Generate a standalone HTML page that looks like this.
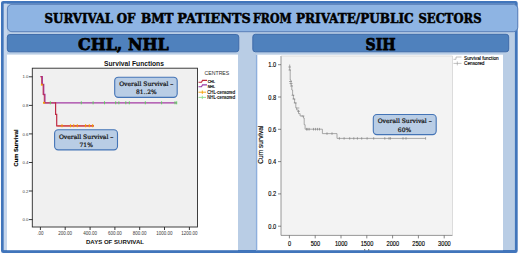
<!DOCTYPE html>
<html><head><meta charset="utf-8"><title>Survival of BMT patients</title>
<style>
html,body{margin:0;padding:0;background:#fff;}
body{width:520px;height:254px;overflow:hidden;font-family:"Liberation Sans",sans-serif;}
svg{display:block;}
.ser{font-family:"DejaVu Serif","Liberation Serif",serif;font-weight:bold;}
.cal{font-family:"DejaVu Serif","Liberation Serif",serif;font-weight:normal;stroke:#111;stroke-width:0.22px;}
.sans{font-family:"Liberation Sans",sans-serif;}
</style></head><body>
<svg width="520" height="254" viewBox="0 0 520 254">
<rect x="0" y="0" width="520" height="254" fill="#fdfdfe"/>
<!-- outer frame -->
<rect x="2.4" y="2.3" width="513.9" height="249.2" rx="0.8" fill="#b9cde5" stroke="#4175bb" stroke-width="2.8"/>
<rect x="3.8" y="3.7" width="3.2" height="246.4" fill="#c6d6ec"/>
<!-- white panels -->
<rect x="7" y="54.6" width="231" height="195.6" fill="#ffffff"/>
<rect x="256" y="54.7" width="247" height="195.5" fill="#ffffff"/>
<rect x="255.9" y="54.7" width="1.4" height="195.5" fill="#8eafdd"/>
<!-- title box -->
<rect x="7.4" y="4.4" width="510.4" height="27.3" rx="4.5" ry="4.5" fill="#8eb4e3" stroke="#5279b3" stroke-width="0.9"/>
<g class="ser" font-size="12" fill="#000" stroke="#000" stroke-width="0.5"><text x="44.6" y="22.8" textLength="68.5" lengthAdjust="spacingAndGlyphs">SURVIVAL</text><text x="116.8" y="22.8" textLength="18.7" lengthAdjust="spacingAndGlyphs">OF</text><text x="141.0" y="22.8" textLength="32.6" lengthAdjust="spacingAndGlyphs">BMT</text><text x="177.3" y="22.8" textLength="73.3" lengthAdjust="spacingAndGlyphs">PATIENTS</text><text x="253.1" y="22.8" textLength="38.5" lengthAdjust="spacingAndGlyphs">FROM</text><text x="296.0" y="22.8" textLength="117.6" lengthAdjust="spacingAndGlyphs">PRIVATE/PUBLIC</text><text x="418.5" y="22.8" textLength="63.0" lengthAdjust="spacingAndGlyphs">SECTORS</text></g>
<!-- headers -->
<rect x="7.3" y="34.5" width="231.5" height="17.3" rx="2.6" ry="2.6" fill="#4f81bd" stroke="#3a66a6" stroke-width="0.9"/>
<rect x="252.8" y="34.3" width="255.9" height="17.5" rx="2.6" ry="2.6" fill="#4f81bd" stroke="#3a66a6" stroke-width="0.9"/>
<text class="ser" x="78" y="50" font-size="16.2" textLength="90.6" lengthAdjust="spacingAndGlyphs" fill="#000" stroke="#000" stroke-width="0.75">CHL, NHL</text>
<text class="ser" x="365.6" y="49.7" font-size="16.2" textLength="30" lengthAdjust="spacingAndGlyphs" fill="#000" stroke="#000" stroke-width="0.75">SIH</text>

<!-- LEFT CHART -->
<g class="sans">
<rect x="32.3" y="68.2" width="165.2" height="158.8" fill="#f0f0f0" stroke="#2a2a2a" stroke-width="0.9"/>
<text x="134" y="65.6" font-size="6.7" font-weight="bold" text-anchor="middle" fill="#111">Survival Functions</text>
<line x1="28.9" y1="76.8" x2="32.5" y2="76.8" stroke="#222" stroke-width="0.9"/><text x="28.5" y="78.39999999999999" font-size="4.3" text-anchor="end" fill="#3a3a3a">1.0</text><line x1="28.9" y1="105.4" x2="32.5" y2="105.4" stroke="#222" stroke-width="0.9"/><text x="28.5" y="107.0" font-size="4.3" text-anchor="end" fill="#3a3a3a">0.8</text><line x1="28.9" y1="133.9" x2="32.5" y2="133.9" stroke="#222" stroke-width="0.9"/><text x="28.5" y="135.5" font-size="4.3" text-anchor="end" fill="#3a3a3a">0.6</text><line x1="28.9" y1="162.5" x2="32.5" y2="162.5" stroke="#222" stroke-width="0.9"/><text x="28.5" y="164.1" font-size="4.3" text-anchor="end" fill="#3a3a3a">0.4</text><line x1="28.9" y1="191.0" x2="32.5" y2="191.0" stroke="#222" stroke-width="0.9"/><text x="28.5" y="192.6" font-size="4.3" text-anchor="end" fill="#3a3a3a">0.2</text><line x1="28.9" y1="219.6" x2="32.5" y2="219.6" stroke="#222" stroke-width="0.9"/><text x="28.5" y="221.2" font-size="4.3" text-anchor="end" fill="#3a3a3a">0.0</text><line x1="40.4" y1="227" x2="40.4" y2="230" stroke="#222" stroke-width="0.9"/><text x="40.4" y="234.9" font-size="4.5" text-anchor="middle" fill="#3a3a3a">.00</text><line x1="65.2" y1="227" x2="65.2" y2="230" stroke="#222" stroke-width="0.9"/><text x="65.2" y="234.9" font-size="4.5" text-anchor="middle" fill="#3a3a3a">200.00</text><line x1="90.1" y1="227" x2="90.1" y2="230" stroke="#222" stroke-width="0.9"/><text x="90.1" y="234.9" font-size="4.5" text-anchor="middle" fill="#3a3a3a">400.00</text><line x1="114.9" y1="227" x2="114.9" y2="230" stroke="#222" stroke-width="0.9"/><text x="114.9" y="234.9" font-size="4.5" text-anchor="middle" fill="#3a3a3a">600.00</text><line x1="139.7" y1="227" x2="139.7" y2="230" stroke="#222" stroke-width="0.9"/><text x="139.7" y="234.9" font-size="4.5" text-anchor="middle" fill="#3a3a3a">800.00</text><line x1="164.5" y1="227" x2="164.5" y2="230" stroke="#222" stroke-width="0.9"/><text x="164.5" y="234.9" font-size="4.5" text-anchor="middle" fill="#3a3a3a">1000.00</text><line x1="189.4" y1="227" x2="189.4" y2="230" stroke="#222" stroke-width="0.9"/><text x="189.4" y="234.9" font-size="4.5" text-anchor="middle" fill="#3a3a3a">1200.00</text>
<text x="115" y="244" font-size="6" font-weight="bold" text-anchor="middle" fill="#111" textLength="58" lengthAdjust="spacingAndGlyphs">DAYS OF SURVIVAL</text>
<text transform="translate(17.7,148) rotate(-90)" font-size="5.8" font-weight="bold" text-anchor="middle" fill="#000" stroke="#000" stroke-width="0.15" textLength="37" lengthAdjust="spacingAndGlyphs">Cum Survival</text>
<!-- curves -->
<polyline points="40.5,76.6 42.3,76.6 42.3,84.5 43.7,84.5 43.7,94.5 44.9,94.5 44.9,102.8 176.7,102.8" fill="none" stroke="#a23aa2" stroke-width="1.3"/>
<polyline points="40.5,76.6 41.6,76.6 41.6,84.5 43.1,84.5 43.1,94.5 44.3,94.5 44.3,102.8 55.6,102.8" fill="none" stroke="#bf2a45" stroke-width="1.2" stroke-opacity="0.7"/>
<polyline points="55,102.8 55.6,102.8 55.6,114.4 56.7,114.4 56.7,125.8 93.9,125.8" fill="none" stroke="#bf2a45" stroke-width="1.2"/>
<line x1="57.3" y1="125.8" x2="93.9" y2="125.8" stroke="#d8504a" stroke-width="1.2"/>
<line x1="50.3" y1="101.3" x2="50.3" y2="104.3" stroke="#5fcf5f" stroke-width="1.0"/><line x1="81.3" y1="101.3" x2="81.3" y2="104.3" stroke="#5fcf5f" stroke-width="1.0"/><line x1="93.1" y1="101.3" x2="93.1" y2="104.3" stroke="#5fcf5f" stroke-width="1.0"/><line x1="104.5" y1="101.3" x2="104.5" y2="104.3" stroke="#5fcf5f" stroke-width="1.0"/><line x1="115.7" y1="101.3" x2="115.7" y2="104.3" stroke="#5fcf5f" stroke-width="1.0"/><line x1="118.9" y1="101.3" x2="118.9" y2="104.3" stroke="#5fcf5f" stroke-width="1.0"/><line x1="125.8" y1="101.3" x2="125.8" y2="104.3" stroke="#5fcf5f" stroke-width="1.0"/><line x1="129.3" y1="101.3" x2="129.3" y2="104.3" stroke="#5fcf5f" stroke-width="1.0"/><line x1="145.3" y1="101.3" x2="145.3" y2="104.3" stroke="#5fcf5f" stroke-width="1.0"/><line x1="161.6" y1="101.3" x2="161.6" y2="104.3" stroke="#5fcf5f" stroke-width="1.0"/><line x1="175" y1="101.3" x2="175" y2="104.3" stroke="#5fcf5f" stroke-width="1.0"/><line x1="176.7" y1="101.3" x2="176.7" y2="104.3" stroke="#5fcf5f" stroke-width="1.0"/>
<line x1="62" y1="124.3" x2="62" y2="127.3" stroke="#f5a000" stroke-width="1.1"/><line x1="70.5" y1="124.3" x2="70.5" y2="127.3" stroke="#f5a000" stroke-width="1.1"/><line x1="73.7" y1="124.3" x2="73.7" y2="127.3" stroke="#f5a000" stroke-width="1.1"/><line x1="77.3" y1="124.3" x2="77.3" y2="127.3" stroke="#f5a000" stroke-width="1.1"/><line x1="85.6" y1="124.3" x2="85.6" y2="127.3" stroke="#f5a000" stroke-width="1.1"/><line x1="89.3" y1="124.3" x2="89.3" y2="127.3" stroke="#f5a000" stroke-width="1.1"/><line x1="92.6" y1="124.3" x2="92.6" y2="127.3" stroke="#f5a000" stroke-width="1.1"/>
<rect x="40.9" y="83.8" width="1.8" height="1.8" fill="#f5a000"/>
<rect x="43" y="101.9" width="1.8" height="1.8" fill="#f5a000"/>
<!-- legend -->
<text x="216.9" y="75.3" font-size="5.8" text-anchor="middle" fill="#2e2e2e" textLength="24.8" lengthAdjust="spacingAndGlyphs">CENTRES</text>
<polyline points="198.5,82.2 201.5,82.2 202.5,80.4 207,80.4" fill="none" stroke="#c0283c" stroke-width="1.1"/>
<polyline points="198.5,86.7 201.5,86.7 202.5,84.9 207,84.9" fill="none" stroke="#9b3aa8" stroke-width="1.1"/>
<line x1="198.5" y1="92.2" x2="206" y2="92.2" stroke="#f5a000" stroke-width="0.9"/><line x1="202.3" y1="90.5" x2="202.3" y2="93.9" stroke="#f5a000" stroke-width="0.9"/>
<line x1="198.5" y1="97.4" x2="206" y2="97.4" stroke="#8fdc8f" stroke-width="0.9"/><line x1="202.3" y1="95.7" x2="202.3" y2="99.1" stroke="#8fdc8f" stroke-width="0.9"/>
<text x="207.7" y="83.3" font-size="4" fill="#000" stroke="#000" stroke-width="0.2" textLength="7.2" lengthAdjust="spacingAndGlyphs">CHL</text>
<text x="207.7" y="87.8" font-size="4" fill="#000" stroke="#000" stroke-width="0.2" textLength="7.2" lengthAdjust="spacingAndGlyphs">NHL</text>
<text x="207.2" y="93.8" font-size="4.6" fill="#000" stroke="#000" stroke-width="0.12" textLength="28" lengthAdjust="spacingAndGlyphs">CHL-censored</text>
<text x="207.2" y="99" font-size="4.6" fill="#000" stroke="#000" stroke-width="0.12" textLength="28" lengthAdjust="spacingAndGlyphs">NHL-censored</text>
</g>
<!-- callouts left -->
<rect x="114.7" y="77.2" width="62.5" height="20.2" rx="3.6" ry="3.6" fill="#b9cde5" stroke="#4474b6" stroke-width="1.1"/>
<text class="cal" x="119.2" y="86.3" font-size="6" textLength="54.2" lengthAdjust="spacingAndGlyphs" fill="#111">Overall Survival –</text>
<text class="cal" x="136" y="93.9" font-size="6" textLength="20.7" lengthAdjust="spacingAndGlyphs" fill="#111">81..2%</text>
<rect x="54.6" y="129.8" width="62.9" height="20.1" rx="3.6" ry="3.6" fill="#b9cde5" stroke="#4474b6" stroke-width="1.1"/>
<text class="cal" x="58.9" y="138.7" font-size="6" textLength="54.4" lengthAdjust="spacingAndGlyphs" fill="#111">Overall Survival –</text>
<text class="cal" x="86.2" y="146.5" font-size="6" text-anchor="middle" fill="#111">71%</text>

<!-- RIGHT CHART -->
<g class="sans">
<rect x="281" y="56" width="171.5" height="179.4" fill="#f3f3f3"/>
<polyline points="281,56 281,235.4 452.5,235.4" fill="none" stroke="#8c8c8c" stroke-width="0.9"/>
<polyline points="281,56 452.5,56 452.5,235.4" fill="none" stroke="#d0d0d0" stroke-width="0.7"/>
<line x1="278" y1="64.7" x2="281" y2="64.7" stroke="#555" stroke-width="0.7"/><text x="268.3" y="67.2" font-size="6.9" textLength="7.9" lengthAdjust="spacingAndGlyphs" fill="#000" stroke="#000" stroke-width="0.15">1.0</text><line x1="278" y1="97.0" x2="281" y2="97.0" stroke="#555" stroke-width="0.7"/><text x="268.3" y="99.5" font-size="6.9" textLength="7.9" lengthAdjust="spacingAndGlyphs" fill="#000" stroke="#000" stroke-width="0.15">0.8</text><line x1="278" y1="129.3" x2="281" y2="129.3" stroke="#555" stroke-width="0.7"/><text x="268.3" y="131.8" font-size="6.9" textLength="7.9" lengthAdjust="spacingAndGlyphs" fill="#000" stroke="#000" stroke-width="0.15">0.6</text><line x1="278" y1="161.6" x2="281" y2="161.6" stroke="#555" stroke-width="0.7"/><text x="268.3" y="164.1" font-size="6.9" textLength="7.9" lengthAdjust="spacingAndGlyphs" fill="#000" stroke="#000" stroke-width="0.15">0.4</text><line x1="278" y1="193.9" x2="281" y2="193.9" stroke="#555" stroke-width="0.7"/><text x="268.3" y="196.4" font-size="6.9" textLength="7.9" lengthAdjust="spacingAndGlyphs" fill="#000" stroke="#000" stroke-width="0.15">0.2</text><line x1="278" y1="226.2" x2="281" y2="226.2" stroke="#555" stroke-width="0.7"/><text x="268.3" y="228.7" font-size="6.9" textLength="7.9" lengthAdjust="spacingAndGlyphs" fill="#000" stroke="#000" stroke-width="0.15">0.0</text><line x1="289.4" y1="235.4" x2="289.4" y2="238.4" stroke="#555" stroke-width="0.7"/><text x="288.02" y="245.6" font-size="6.9" textLength="3.15" lengthAdjust="spacingAndGlyphs" fill="#000" stroke="#000" stroke-width="0.15">0</text><line x1="315.2" y1="235.4" x2="315.2" y2="238.4" stroke="#555" stroke-width="0.7"/><text x="310.67" y="245.6" font-size="6.9" textLength="9.45" lengthAdjust="spacingAndGlyphs" fill="#000" stroke="#000" stroke-width="0.15">500</text><line x1="341.0" y1="235.4" x2="341.0" y2="238.4" stroke="#555" stroke-width="0.7"/><text x="334.90" y="245.6" font-size="6.9" textLength="12.60" lengthAdjust="spacingAndGlyphs" fill="#000" stroke="#000" stroke-width="0.15">1000</text><line x1="366.79999999999995" y1="235.4" x2="366.79999999999995" y2="238.4" stroke="#555" stroke-width="0.7"/><text x="360.70" y="245.6" font-size="6.9" textLength="12.60" lengthAdjust="spacingAndGlyphs" fill="#000" stroke="#000" stroke-width="0.15">1500</text><line x1="392.59999999999997" y1="235.4" x2="392.59999999999997" y2="238.4" stroke="#555" stroke-width="0.7"/><text x="386.50" y="245.6" font-size="6.9" textLength="12.60" lengthAdjust="spacingAndGlyphs" fill="#000" stroke="#000" stroke-width="0.15">2000</text><line x1="418.4" y1="235.4" x2="418.4" y2="238.4" stroke="#555" stroke-width="0.7"/><text x="412.30" y="245.6" font-size="6.9" textLength="12.60" lengthAdjust="spacingAndGlyphs" fill="#000" stroke="#000" stroke-width="0.15">2500</text><line x1="444.2" y1="235.4" x2="444.2" y2="238.4" stroke="#555" stroke-width="0.7"/><text x="438.10" y="245.6" font-size="6.9" textLength="12.60" lengthAdjust="spacingAndGlyphs" fill="#000" stroke="#000" stroke-width="0.15">3000</text>
<text transform="translate(263.3,144.7) rotate(-90)" font-size="7" text-anchor="middle" fill="#000" stroke="#000" stroke-width="0.15" textLength="38" lengthAdjust="spacingAndGlyphs">Cum survival</text>
<polyline points="289.5,64.7 289.7,64.7 289.7,70 290.2,70 290.2,80 291,80 291,85 291.8,85 291.8,90 292.6,90 292.6,95 293.4,95 293.4,99 294.6,99 294.6,103 295.8,103 295.8,107.9 296.7,107.9 296.7,110 298.5,110 298.5,113.6 300.1,113.6 300.1,116 303.4,116 303.4,118 304.2,118 304.2,124.7 305.1,124.7 305.1,129.2 322.4,129.2 322.4,133.6 337,133.6 337,138.4 425.6,138.4" fill="none" stroke="#888" stroke-width="0.7"/>
<line x1="339.4" y1="137.1" x2="339.4" y2="139.70000000000002" stroke="#777" stroke-width="0.6"/><line x1="344.1" y1="137.1" x2="344.1" y2="139.70000000000002" stroke="#777" stroke-width="0.6"/><line x1="349.7" y1="137.1" x2="349.7" y2="139.70000000000002" stroke="#777" stroke-width="0.6"/><line x1="353.8" y1="137.1" x2="353.8" y2="139.70000000000002" stroke="#777" stroke-width="0.6"/><line x1="357.4" y1="137.1" x2="357.4" y2="139.70000000000002" stroke="#777" stroke-width="0.6"/><line x1="361.7" y1="137.1" x2="361.7" y2="139.70000000000002" stroke="#777" stroke-width="0.6"/><line x1="367.1" y1="137.1" x2="367.1" y2="139.70000000000002" stroke="#777" stroke-width="0.6"/><line x1="373.7" y1="137.1" x2="373.7" y2="139.70000000000002" stroke="#777" stroke-width="0.6"/><line x1="384.8" y1="137.1" x2="384.8" y2="139.70000000000002" stroke="#777" stroke-width="0.6"/><line x1="389" y1="137.1" x2="389" y2="139.70000000000002" stroke="#777" stroke-width="0.6"/><line x1="390.4" y1="137.1" x2="390.4" y2="139.70000000000002" stroke="#777" stroke-width="0.6"/><line x1="403" y1="137.1" x2="403" y2="139.70000000000002" stroke="#777" stroke-width="0.6"/><line x1="406" y1="137.1" x2="406" y2="139.70000000000002" stroke="#777" stroke-width="0.6"/><line x1="425.6" y1="137.1" x2="425.6" y2="139.70000000000002" stroke="#777" stroke-width="0.6"/>
<line x1="306.5" y1="127.89999999999999" x2="306.5" y2="130.5" stroke="#777" stroke-width="0.6"/><line x1="307.8" y1="127.89999999999999" x2="307.8" y2="130.5" stroke="#777" stroke-width="0.6"/><line x1="309.2" y1="127.89999999999999" x2="309.2" y2="130.5" stroke="#777" stroke-width="0.6"/><line x1="313.5" y1="127.89999999999999" x2="313.5" y2="130.5" stroke="#777" stroke-width="0.6"/><line x1="315.5" y1="127.89999999999999" x2="315.5" y2="130.5" stroke="#777" stroke-width="0.6"/><line x1="317.5" y1="127.89999999999999" x2="317.5" y2="130.5" stroke="#777" stroke-width="0.6"/><line x1="319.5" y1="127.89999999999999" x2="319.5" y2="130.5" stroke="#777" stroke-width="0.6"/>
<line x1="327" y1="132.29999999999998" x2="327" y2="134.9" stroke="#777" stroke-width="0.6"/><line x1="332" y1="132.29999999999998" x2="332" y2="134.9" stroke="#777" stroke-width="0.6"/>
<g stroke="#777" stroke-width="0.6">
<line x1="288.3" y1="67" x2="291" y2="67"/><line x1="288.5" y1="70" x2="291" y2="70"/>
<line x1="289" y1="81.5" x2="292" y2="81.5"/><line x1="289.5" y1="83.5" x2="292.5" y2="83.5"/><line x1="290" y1="86" x2="293" y2="86"/>
<line x1="291.5" y1="95.3" x2="294.3" y2="95.3"/><line x1="292.5" y1="99" x2="295.3" y2="99"/><line x1="293.8" y1="102.9" x2="296.8" y2="102.9"/>
<line x1="296.3" y1="108" x2="299.3" y2="108"/><line x1="297" y1="111.3" x2="300" y2="111.3"/><line x1="301.5" y1="116" x2="304.4" y2="116"/>
</g>
<!-- legend -->
<polyline points="453.5,59.3 456,59.3 456,57 461.5,57" fill="none" stroke="#999" stroke-width="0.6"/>
<line x1="453.5" y1="63.4" x2="461.5" y2="63.4" stroke="#999" stroke-width="0.6"/><line x1="457.3" y1="61.4" x2="457.3" y2="65.4" stroke="#999" stroke-width="0.6"/>
<text x="464" y="59.7" font-size="5.6" fill="#000" stroke="#000" stroke-width="0.15" textLength="34.7" lengthAdjust="spacingAndGlyphs">Survival function</text>
<text x="464" y="65.2" font-size="5.6" fill="#000" stroke="#000" stroke-width="0.15" textLength="20.5" lengthAdjust="spacingAndGlyphs">Censored</text>
<rect x="364" y="249.3" width="1.3" height="1" fill="#555"/><rect x="368" y="249.3" width="1.3" height="1" fill="#555"/>
</g>
<rect x="373.3" y="114.5" width="62.9" height="20.1" rx="3.6" ry="3.6" fill="#b9cde5" stroke="#4474b6" stroke-width="1.1"/>
<text class="cal" x="377.7" y="123.2" font-size="6" textLength="54" lengthAdjust="spacingAndGlyphs" fill="#111">Overall Survival –</text>
<text class="cal" x="404.5" y="131.5" font-size="6" text-anchor="middle" fill="#111">60%</text>
</svg>
</body></html>
